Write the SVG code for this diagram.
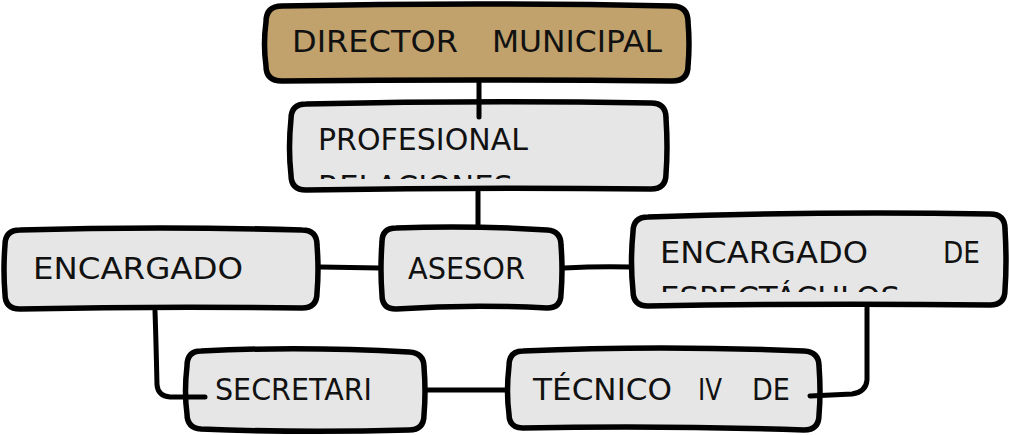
<svg xmlns="http://www.w3.org/2000/svg" width="1009" height="435" viewBox="0 0 1009 435">
<defs>
<style>
.box{fill:#e6e6e6;stroke:#000;stroke-width:5.5;stroke-linejoin:round}
.dir{fill:#c1a16c}
.con{fill:none;stroke:#000;stroke-width:5;stroke-linecap:round;stroke-linejoin:round}
.t{font-family:"DejaVu Sans","Liberation Sans",sans-serif;font-size:31px;fill:#111}
</style>
<clipPath id="cpProf"><rect x="295" y="108" width="366" height="71"/></clipPath>
<clipPath id="cpEsp"><rect x="637" y="218" width="365" height="74"/></clipPath>
</defs>
<g id="director">
<path class="box dir" d="M282,6 Q477,2 672,6 Q688,6 688,22 Q690,44 688,66 Q688,81 672,81 Q477,79 282,81 Q266,81 266,66 Q263,44 266,22 Q266,6 282,6 Z"/>
<text class="t" x="292" y="52" textLength="166" lengthAdjust="spacingAndGlyphs">DIRECTOR</text>
<text class="t" x="492" y="52" textLength="170" lengthAdjust="spacingAndGlyphs">MUNICIPAL</text>
</g>
<g id="profesional">
<path class="box" d="M306,104 Q478,100 651,103 Q666,103 666,118 Q668,148 666,174 Q666,189 651,189 Q478,187 306,190 Q291,190 291,175 Q288,148 291,119 Q291,104 306,104 Z"/>
<g clip-path="url(#cpProf)">
<text class="t" x="318" y="150" textLength="210" lengthAdjust="spacingAndGlyphs">PROFESIONAL</text>
<text class="t" x="318" y="197" textLength="195" lengthAdjust="spacingAndGlyphs">RELACIONES</text>
</g>
</g>
<g id="encargado">
<path class="box" d="M20,230 Q160,226 302,230 Q317,230 317,245 Q319,270 317,293 Q317,308 302,308 Q160,306 20,309 Q5,309 5,294 Q3,270 5,245 Q5,230 20,230 Z"/>
<text class="t" x="33" y="279" textLength="210" lengthAdjust="spacingAndGlyphs">ENCARGADO</text>
</g>
<g id="asesor">
<path class="box" d="M396,228 Q470,225 547,230 Q561,231 561,245 Q563,270 561,294 Q561,308 547,308 Q470,304 396,309 Q382,309 382,295 Q380,270 382,242 Q382,228 396,228 Z"/>
<text class="t" x="408" y="279" textLength="117" lengthAdjust="spacingAndGlyphs">ASESOR</text>
</g>
<g id="espectaculos">
<path class="box" d="M648,217 Q820,211 990,214 Q1005,214 1005,229 Q1007,262 1005,290 Q1005,305 990,305 Q820,303 648,306 Q633,306 633,291 Q630,262 633,232 Q633,217 648,217 Z"/>
<g clip-path="url(#cpEsp)">
<text class="t" x="660" y="263" textLength="208" lengthAdjust="spacingAndGlyphs">ENCARGADO</text>
<text class="t" x="943" y="263" textLength="37" lengthAdjust="spacingAndGlyphs">DE</text>
<text class="t" x="660" y="308" textLength="240" lengthAdjust="spacingAndGlyphs">ESPECTÁCULOS</text>
</g>
</g>
<g id="secretari">
<path class="box" d="M201,351 Q300,346 409,352 Q424,353 424,367 Q426,392 424,415 Q424,430 409,430 Q300,433 201,429 Q187,428 187,414 Q184,392 187,366 Q187,351 201,351 Z"/>
<text class="t" x="215" y="400" textLength="157" lengthAdjust="spacingAndGlyphs">SECRETARI</text>
</g>
<g id="tecnico">
<path class="box" d="M523,351 Q660,345 804,351 Q819,352 819,366 Q821,392 819,415 Q819,430 804,430 Q660,425 523,428 Q509,428 509,414 Q506,392 509,366 Q509,351 523,351 Z"/>
<text class="t" x="533" y="400" textLength="139" lengthAdjust="spacingAndGlyphs">TÉCNICO</text>
<text class="t" x="698" y="400" textLength="24" lengthAdjust="spacingAndGlyphs">IV</text>
<text class="t" x="752" y="400" textLength="38" lengthAdjust="spacingAndGlyphs">DE</text>
</g>
<g id="connectors">
<path class="con" d="M479,83 L479,117"/>
<path class="con" d="M478,192 L478,226"/>
<path class="con" d="M320,267 L380,268"/>
<path class="con" d="M564,268 Q600,266 631,267"/>
<path class="con" d="M155,311 Q156,340 157,385 Q158,396 170,397 L205,397"/>
<path class="con" d="M427,390 L506,390"/>
<path class="con" d="M867,308 L867,380 Q866,392 852,394 L810,396"/>
</g>
</svg>
